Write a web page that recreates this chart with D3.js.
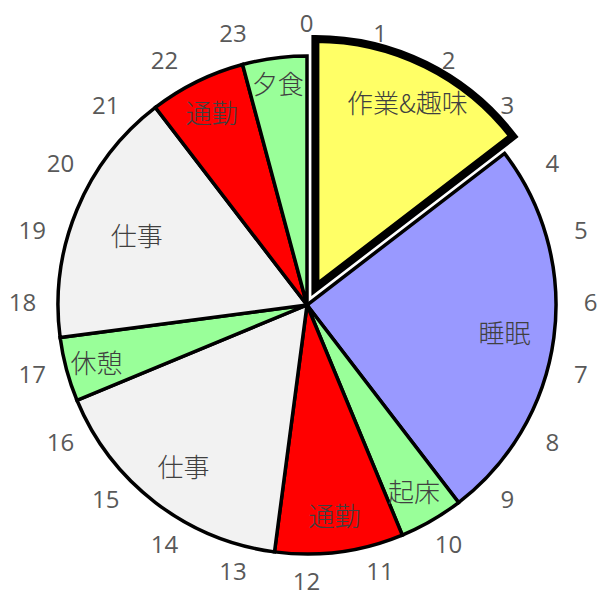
<!DOCTYPE html>
<html><head><meta charset="utf-8">
<script src="https://cdn.jsdelivr.net/npm/d3@7"></script>
<style>html,body{margin:0;padding:0;background:#fff;}</style>
</head><body>
<svg id="c" width="599" height="599"></svg>
<script>
const activities = ["作業&趣味","睡眠","起床","通勤","仕事","休憩","仕事","通勤","夕食"];
const hours = [3.5, 6, 1, 2, 4, 1, 4, 1.5, 1];
const colors = ["#FFFF66","#9999FF","#99FF99","#FF0000","#F2F2F2","#99FF99","#F2F2F2","#FF0000","#99FF99"];
const exploded = [true,false,false,false,false,false,false,false,false];
const hourLabels = d3.range(0,24).map(String);
// layout only: relative radius at which each slice label sits
const labelRadius = [0.835,0.80,0.86,0.85,0.815,0.875,0.74,0.865,0.90];

const svg = d3.select("#c");
const cx = 307, cy = 305, R = 249;
const g = svg.append("g").attr("transform",`translate(${cx},${cy})`);

const data = activities.map((a,i)=>({name:a, value:hours[i], color:colors[i], ex:exploded[i], lr:labelRadius[i]}));
const pie = d3.pie().value(d=>d.value).sort(null).startAngle(0).endAngle(2*Math.PI);
const arcs = pie(data);
const arc = d3.arc().innerRadius(0).outerRadius(R);
const explode = 19;

const idx = arcs.map((d,i)=>i);
const order = idx.filter(i=>!arcs[i].data.ex).concat(idx.filter(i=>arcs[i].data.ex));
order.forEach(i=>{
  const d = arcs[i];
  const mid = (d.startAngle+d.endAngle)/2;
  const off = d.data.ex ? explode : 0;
  const sg = g.append("g").attr("transform",`translate(${Math.sin(mid)*off},${-Math.cos(mid)*off})`);
  sg.append("path").attr("d",arc(d)).attr("fill",d.data.color)
    .attr("stroke","#000").attr("stroke-width",d.data.ex?8:3.5).attr("stroke-linejoin","miter");
});
order.forEach(i=>{
  const d = arcs[i];
  const mid = (d.startAngle+d.endAngle)/2;
  const off = d.data.ex ? explode : 0;
  const lr = R*d.data.lr + off;
  g.append("text").attr("x",Math.sin(mid)*lr).attr("y",-Math.cos(mid)*lr)
    .attr("text-anchor","middle").attr("dominant-baseline","central")
    .attr("font-family","'Noto Sans CJK JP'").attr("font-size",26).attr("font-weight",300).attr("fill","#404040")
    .text(d.data.name);
});

const hs = d3.scaleLinear().domain([0,24]).range([0,2*Math.PI]);
const hg = svg.append("g").attr("transform","translate(306.5,301.5)");
hg.selectAll("text.h").data(hourLabels).enter().append("text").attr("class","h")
  .attr("x",(d,i)=>Math.sin(hs(i))*284).attr("y",(d,i)=>-Math.cos(hs(i))*279)
  .attr("text-anchor","middle").attr("dominant-baseline","central")
  .attr("font-family","'Open Sans'").attr("font-size",24).attr("fill","#595959")
  .text(d=>d);
</script>
</body></html>
